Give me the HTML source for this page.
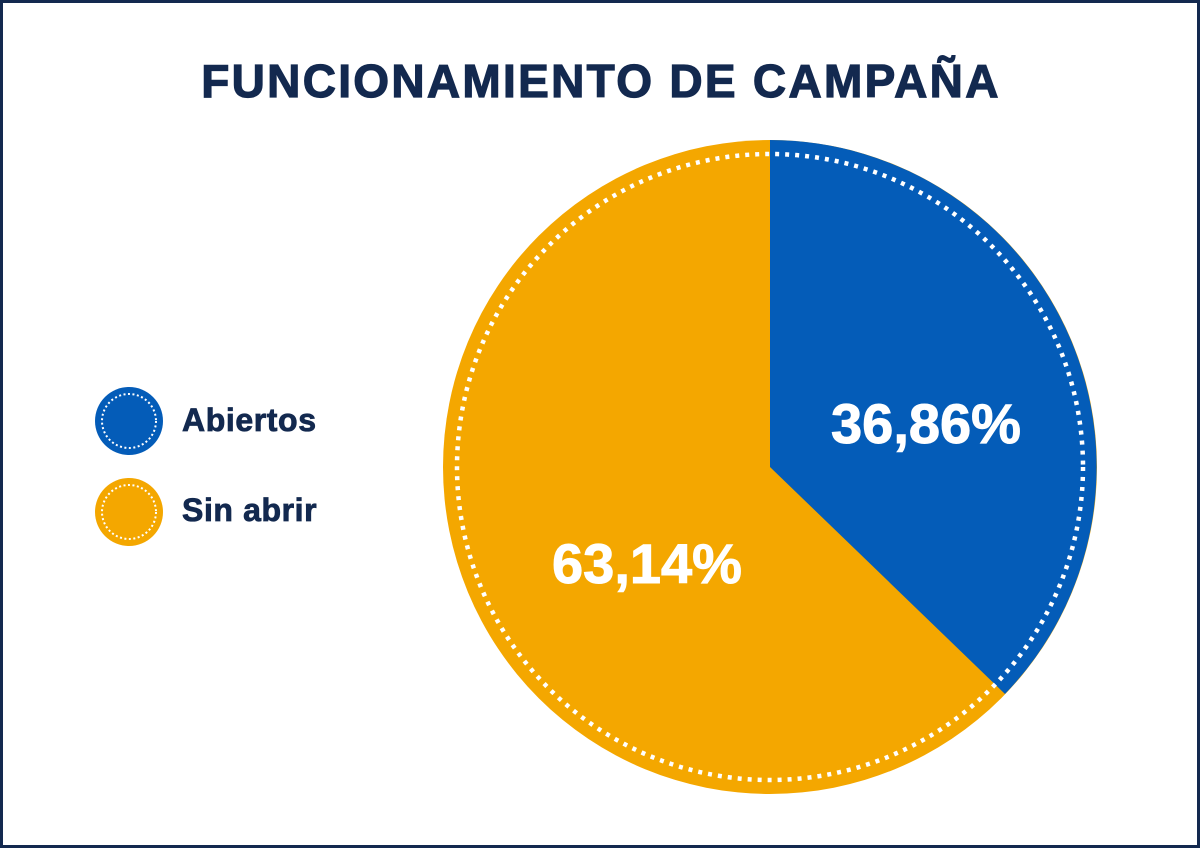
<!DOCTYPE html>
<html><head><meta charset="utf-8"><style>
html,body{margin:0;padding:0;background:#fff}
body{width:1200px;height:848px;overflow:hidden;position:relative}
.frame{position:absolute;left:0;top:0;width:1194px;height:842px;border:3px solid #13294f}
</style></head><body>
<div class="frame"></div>
<svg width="1200" height="848" style="position:absolute;left:0;top:0" font-family="'Liberation Sans',sans-serif">
<text x="601" y="97" text-anchor="middle" font-size="46" font-weight="bold" fill="#13294f" stroke="#13294f" stroke-width="1.2" letter-spacing="2.3">FUNCIONAMIENTO DE CAMPAÑA</text>
<circle cx="770" cy="467" r="327" fill="#f4a700"/>
<path d="M770 467 L770 140 A327 327 0 0 1 1005 694 Z" fill="#045cb8"/>
<circle cx="770" cy="467" r="313" fill="none" stroke="#fff" stroke-width="4.5" stroke-dasharray="4 6"/>
<text x="926" y="443" text-anchor="middle" font-size="56" font-weight="bold" fill="#fff" stroke="#fff" stroke-width="1">36,86%</text>
<text x="647" y="583" text-anchor="middle" font-size="56" font-weight="bold" fill="#fff" stroke="#fff" stroke-width="1">63,14%</text>
<circle cx="129" cy="421" r="34" fill="#045cb8"/>
<circle cx="129" cy="421" r="27" fill="none" stroke="#fff" stroke-width="2" stroke-dasharray="2 2.5"/>
<circle cx="129" cy="512" r="34" fill="#f4a700"/>
<circle cx="129" cy="512" r="27" fill="none" stroke="#fff" stroke-width="2" stroke-dasharray="2 2.5"/>
<text x="182" y="431" font-size="32" font-weight="bold" fill="#13294f" stroke="#13294f" stroke-width="0.8" letter-spacing="0.6">Abiertos</text>
<text x="182" y="521" font-size="32" font-weight="bold" fill="#13294f" stroke="#13294f" stroke-width="0.8" letter-spacing="0.6">Sin abrir</text>
</svg>
</body></html>
